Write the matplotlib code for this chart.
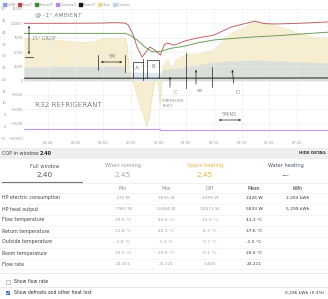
import matplotlib
matplotlib.use("Agg")
import matplotlib.pyplot as plt
from matplotlib.patches import Rectangle, Patch
from matplotlib.lines import Line2D

W, H = 328, 299

# time axis: minutes after 06:40
tick_minutes = [0, 5, 10, 15, 20, 25, 30, 35, 40, 45]
tick_labels = ["06:40", "06:45", "06:50", "06:55", "07:00", "07:05", "07:10", "07:15", "07:20", "07:25"]

flow_t = [-4.34, 2.2, 9.4, 12.1, 13.9, 14.5, 15.4, 16.1, 17.0, 17.7, 18.4, 19.3, 20.3, 21.0,
          21.5, 22.8, 24.8, 26.9, 30.0, 33.1, 35.6, 37.3, 39.1, 40.9, 43.8, 46.3, 50.6]
flow_temp = [43.9, 43.9, 44.0, 44.2, 44.0, 43.2, 38.9, 33.8, 29.5, 31.7, 33.8, 32.5, 30.4, 34.6,
             35.5, 34.6, 36.4, 37.6, 38.9, 42.3, 43.8, 44.8, 43.8, 43.6, 43.8, 44.0, 44.5]

return_t = [-4.34, 13.9, 14.8, 16.1, 17.5, 18.8, 19.9, 20.6, 22.1, 24.8, 26.9, 30.0, 33.1,
            37.3, 42.0, 45.6, 50.6]
return_temp = [39.6, 39.6, 38.9, 36.8, 33.8, 31.8, 31.8, 32.1, 33.2, 34.2, 35.5, 36.8, 37.4,
               38.1, 38.7, 39.3, 40.1]

room_t = [-4.34, 20.0, 50.6]
room_temp = [20.5, 20.5, 20.6]

outside_t = [-4.34, 20.3, 50.6]
outside_temp = [-1.1, -1.8, -1.8]

heat_t = [-4.34, -1.45, 2.2, 6.7, 8.5, 10.3, 13.9, 14.3, 14.5, 15.0, 15.4, 15.9, 16.6, 17.4,
          17.8, 18.3, 18.6, 19.0, 19.3, 19.9, 20.1, 20.3, 20.4, 20.6, 20.8, 21.2, 21.7, 22.4,
          23.1, 25.1, 26.9, 28.4, 30.0, 31.8, 33.1, 35.4, 37.3, 38.7, 41.0, 43.8, 44.8, 46.5,
          47.7, 50.6]
heat_w = [7390, 7270, 7000, 6660, 6920, 7350, 7440, 6220, 3600, 290, -230, -1980, -4250, -6510,
          -7987, -6510, -4250, -1280, -60, -60, -2500, -4250, -2500, 120, 2560, 3250, 3600, 1860,
          3600, 4650, 4480, 5000, 5350, 7090, 8310, 9190, 10484, 10060, 9540, 8840, 8310, 7970,
          7620, 7440]

elec_t = [-4.34, 2.2, 9.4, 13.7, 14.1, 15.7, 19.3, 20.3, 20.6, 21.7, 23.9, 26.9, 30.0, 33.1,
          37.3, 42.0, 45.6, 50.6]
elec_w = [2380, 2440, 2470, 2470, 1510, 1510, 1420, 1340, 1860, 2030, 2210, 2730, 3260, 3430,
          3635, 3430, 3260, 3080]

legend_names = ["DHW", "FlowT", "ReturnT", "OutsideT", "RoomT", "Heat", "Electric"]
legend_colors = ["#8c9fe6", "#b84a4a", "#3d8c3d", "#b98ae3", "#111111", "#f2d88f", "#bcd6ee"]

cop_tabs = ["Full window", "When running", "Space heating", "Water heating"]
cop_values = ["2.40", "2.45", "2.45", "---"]
tab_colors = ["#555555", "#8f9b84", "#e9b04a", "#4a5570"]

stat_cols = ["Min", "Max", "Diff", "Mean", "kWh"]
stat_rows = ["HP electric consumption", "HP heat output", "Flow temperature",
             "Return temperature", "Outside temperature", "Room temperature", "Flow rate"]
stat_values = [
    ["135 W", "3635 W", "3499 W", "2426 W", "2.204 kWh"],
    ["-7987 W", "10484 W", "18471 W", "5833 W", "5.299 kWh"],
    ["29.5 °C", "44.8 °C", "15.3 °C", "41.2 °C", ""],
    ["31.8 °C", "40.1 °C", "8.3 °C", "37.6 °C", ""],
    ["-1.8 °C", "-1.1 °C", "0.7 °C", "-1.5 °C", ""],
    ["20.5 °C", "20.6 °C", "0.1 °C", "20.6 °C", ""],
    ["22.921", "23.321", "0.400", "23.211", ""],
]

fig = plt.figure(figsize=(W / 100, H / 100), dpi=100)


def fx(x):
    return x / W


def fy(y):
    return 1 - y / H


def txt(x, y, s, **kw):
    kw.setdefault("va", "center")
    kw.setdefault("fontsize", 3.5)
    fig.text(fx(x), fy(y), s, **kw)


def line(xs, ys, **kw):
    kw.setdefault("color", "#222222")
    kw.setdefault("lw", 0.5)
    fig.add_artist(Line2D([fx(x) for x in xs], [fy(y) for y in ys], **kw))


def arrow(x0, y0, x1, y1, both=False):
    fig.add_artist(matplotlib.patches.FancyArrowPatch(
        (fx(x0), fy(y0)), (fx(x1), fy(y1)), transform=fig.transFigure,
        arrowstyle="<->" if both else "->", mutation_scale=3, lw=0.5, color="#222222"))


# ---- chart ----
ax = fig.add_axes([fx(24), fy(138), fx(304), 129 / H])
ax.fill_between(heat_t, 0, heat_w, color="#f7edd0", lw=0)
ax.plot(heat_t, heat_w, color="#eddca8", lw=0.4)
ax.fill_between(elec_t, 0, elec_w, color="#c8d7e1", alpha=0.6, lw=0)
ax.set_xlim(-4.34, 50.6)
ax.set_ylim(-10000, 12500)
ax.set_yticks(range(-10000, 12501, 2500))
ax.set_xticks(tick_minutes)
ax.set_xticklabels(tick_labels)
ax.tick_params(length=0, labelsize=2.6, labelcolor="#9a9a9a")
ax.tick_params(axis="y", pad=0.8)
ax.tick_params(axis="x", pad=2.5)
ax.grid(color="#ececec", lw=0.4)
for s in ax.spines.values():
    s.set_visible(False)

axT = ax.twinx()
axT.plot(flow_t, flow_temp, color="#c2646c", lw=0.7)
axT.plot(return_t, return_temp, color="#6b9e5a", lw=0.7)
axT.plot(room_t, room_temp, color="#333333", lw=0.8)
axT.plot(outside_t, outside_temp, color="#c49ae6", lw=0.8, drawstyle="steps-post")
axT.set_ylim(-5, 50)
axT.set_yticks(range(-5, 51, 5))
axT.yaxis.set_ticks_position("left")
axT.tick_params(length=0, labelsize=2.6, labelcolor="#9a9a9a", pad=13)
for s in axT.spines.values():
    s.set_visible(False)

handles = [Patch(color=c, label=n) for n, c in zip(legend_names, legend_colors)]
fig.legend(handles=handles, loc="upper left", bbox_to_anchor=(0.0, 1.0), ncol=7,
           frameon=False, fontsize=2.7, handlelength=0.7, handleheight=0.7,
           handletextpad=0.25, columnspacing=0.6, borderpad=0.3, labelcolor="#9a9a9a")

# ---- hand annotations ----
hand = dict(color="#1e1e1e", family="DejaVu Sans", fontweight="light")
txt(35, 15, "@ -1° AMBIENT", fontsize=4.4, **hand)
txt(32, 38, "15° DROP", fontsize=3.4, **hand)
arrow(29, 23, 29, 57, both=True)
line([25, 33], [57, 57])
txt(112, 57, "5M", fontsize=3.4, ha="center", **hand)
arrow(98, 62, 125, 62, both=True)
line([98, 98], [55, 70])
line([125, 125], [55, 72])
line([133, 133, 143], [78, 62, 62])
line([143, 143], [59, 80])
txt(137, 68, "A", fontsize=4, ha="center", **hand)
line([147, 147, 159, 159], [78, 60, 60, 78])
txt(153, 66, "B", fontsize=4, ha="center", **hand)
arrow(170, 90, 170, 74)
txt(174, 93, "C", fontsize=3.4, **hand)
txt(162, 101, "COMPRESSOR", fontsize=2.3, **hand)
txt(163, 106, "RESET.", fontsize=2.3, **hand)
line([186, 186], [53, 88])
arrow(196, 87, 196, 67)
txt(197, 91, "5M", fontsize=3, **hand)
line([212, 212], [67, 87])
arrow(234, 86, 232, 67)
txt(235, 92, "D", fontsize=3.8, **hand)
txt(229, 114, "5MINS", fontsize=3.4, ha="center", **hand)
arrow(216, 120, 244, 120, both=True)
txt(35, 105, "R32 REFRIGERANT", fontsize=5.2, **hand)

# ---- details panel ----
fig.add_artist(Rectangle((0, fy(159)), 1, 11 / H, transform=fig.transFigure,
                         color="#eeeeee", lw=0))
txt(2, 153.5, "COP in window: ", color="#444444")
txt(40, 153.5, "2.40", color="#222222", fontweight="bold")
txt(326, 153.5, "HIDE DETAIL", ha="right", fontsize=2.8, fontweight="bold", color="#333333")

tab_x = [45, 123, 205, 286]
for x, name, val, c in zip(tab_x, cop_tabs, cop_values, tab_colors):
    txt(x, 166, name, ha="center", fontsize=3.6, color=c)
    txt(x, 175, val, ha="center", fontsize=5.2, color=c if c != "#8f9b84" else "#a6b09c")
line([0, W], [182.5, 182.5], color="#e6e6e6", lw=0.4)
line([2, 82], [182, 182], color="#777777", lw=0.8)

col_x = [123, 166, 210, 254, 298]
for i, (x, name) in enumerate(zip(col_x, stat_cols)):
    txt(x, 188, name, ha="center", fontsize=3.3, color="#888888" if i < 3 else "#333333")
for r, (name, vals) in enumerate(zip(stat_rows, stat_values)):
    y = 198 + r * 11
    line([0, W], [y - 5.5, y - 5.5], color="#ececec", lw=0.4)
    txt(2, y, name, fontsize=3.4, color="#444444")
    for i, (x, v) in enumerate(zip(col_x, vals)):
        txt(x, y, v, ha="center", fontsize=3.2, color="#a0a0a0" if i < 3 else "#333333")
line([0, W], [268.5, 268.5], color="#ececec", lw=0.4)

line([0, W], [273, 273], color="#e2e2e2", lw=0.5)
line([0, W], [287, 287], color="#e2e2e2", lw=0.5)
fig.add_artist(Rectangle((fx(6), fy(283.5)), 3.5 / W, 3.5 / H, transform=fig.transFigure,
                         fill=False, ec="#9a9a9a", lw=0.4))
txt(14, 281.5, "Show flow rate", fontsize=3.3, color="#333333")
fig.add_artist(Rectangle((fx(5.5), fy(295)), 4 / W, 4 / H, transform=fig.transFigure,
                         color="#3c6fd6", lw=0))
line([6.3, 7.4, 9], [293, 294.2, 291.5], color="white", lw=0.4)
txt(14, 293, "Show defrosts and other heat lost", fontsize=3.3, color="#333333")
txt(324, 293, "0.296 kWh (5.3%)", ha="right", fontsize=3.2, color="#333333")

fig.savefig("out.png", dpi=100)
